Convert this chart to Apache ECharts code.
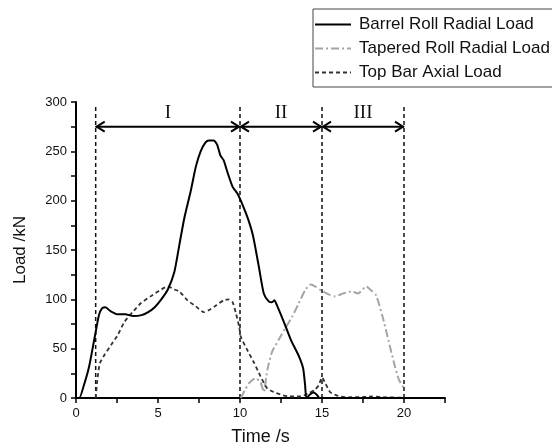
<!DOCTYPE html>
<html>
<head>
<meta charset="utf-8">
<script src="https://cdn.jsdelivr.net/npm/echarts@6/dist/echarts.min.js"></script>
<style>
  html, body { margin: 0; padding: 0; background: #fff; }
  #chart { width: 552px; height: 448px; }
</style>
</head>
<body>
<div id="chart"></div>
<script>
// [time s, load kN]
var barrelLoad = [
  [0, 0], [0.2, 0], [0.5, 14], [0.8, 32], [1.1, 58], [1.4, 84], [1.6, 91], [1.8, 92],
  [2.1, 88], [2.5, 85], [3.0, 85], [3.5, 83], [4.0, 84], [4.4, 87], [4.8, 92], [5.2, 100],
  [5.6, 110], [6.0, 128], [6.3, 155], [6.6, 182], [7.0, 210], [7.3, 234], [7.6, 250],
  [7.9, 259], [8.1, 261], [8.4, 261], [8.6, 257], [8.8, 246], [9.0, 241], [9.25, 228],
  [9.55, 214], [9.85, 207], [10.15, 196], [10.5, 181], [10.8, 164], [11.15, 133],
  [11.45, 106], [11.75, 98], [11.95, 97], [12.1, 99], [12.3, 92], [12.7, 76], [13.1, 59],
  [13.6, 42], [13.85, 30], [13.97, 13], [14.05, 0], [14.3, 4], [14.5, 5.5], [14.7, 3],
  [14.85, 0], [20, 0]
];
var taperedLoad = [
  [10.05, 0], [10.3, 8], [10.55, 15], [10.95, 20], [11.25, 16], [11.45, 6], [11.66, 28],
  [11.96, 47], [12.36, 59], [12.77, 71], [13.17, 82], [13.58, 96], [14.0, 110], [14.3, 115],
  [14.6, 113], [14.95, 109], [15.4, 105], [15.8, 103], [16.3, 106], [16.8, 108], [17.2, 106],
  [17.7, 113], [18.0, 109], [18.3, 104], [18.7, 82], [19.0, 62], [19.4, 35], [19.7, 18],
  [20.0, 10]
];
var topBarLoad = [
  [1.2, 0], [1.3, 18], [1.45, 35], [1.75, 44], [2.15, 54], [2.55, 64], [2.95, 77],
  [3.45, 87], [3.95, 96], [4.55, 103], [5.1, 109], [5.6, 113], [6.0, 110], [6.3, 108],
  [6.8, 99], [7.3, 93], [7.8, 87], [8.2, 90], [8.55, 94], [9.0, 99], [9.3, 100], [9.55, 97],
  [9.75, 86], [9.95, 72], [10.05, 62], [10.4, 50], [10.85, 36], [11.25, 22], [11.65, 10],
  [12.2, 5], [13.0, 1.5], [13.7, 1.5], [14.2, 5], [14.55, 8], [14.8, 13], [15.0, 21],
  [15.2, 15], [15.5, 6], [16.0, 2], [16.6, 0.7], [17.5, 1], [18.0, 1.5], [19.0, 0.7], [20, 0.3]
];

var seriesNames = ['Barrel Roll Radial Load', 'Tapered Roll Radial Load', 'Top Bar Axial Load'];

// stage boundaries and stage labels
var boundaryTimes = [1.2, 10, 15, 20];
var phaseNames = ['I', 'II', 'III'];
var boundaryTop = 296;
var arrowLoad = 275;
var phaseLabelLoad = 289;

var phases = [];
for (var i = 0; i < phaseNames.length; i++) {
  phases.push([boundaryTimes[i], boundaryTimes[i + 1]]);
}

var chart = echarts.init(document.getElementById('chart'));

var font = 'Liberation Sans, Arial, sans-serif';

var option = {
  animation: false,
  backgroundColor: '#fff',
  grid: { left: 76, top: 102, width: 369, height: 296, outerBoundsMode: 'none' },
  legend: {
    orient: 'vertical',
    left: 313,
    top: 9,
    data: seriesNames,
    itemWidth: 36,
    itemHeight: 14,
    itemGap: 7,
    padding: [7, 40, 6, 1],
    borderColor: '#444',
    borderWidth: 1,
    itemStyle: { opacity: 0 },
    textStyle: { fontSize: 17, fontFamily: font, color: '#111', padding: [0, 0, 0, 3] }
  },
  xAxis: {
    type: 'value',
    min: 0,
    max: 22.5,
    interval: 2.5,
    name: 'Time /s',
    nameLocation: 'middle',
    nameGap: 30,
    nameTextStyle: { fontSize: 18, fontFamily: font, color: '#111' },
    axisLine: { lineStyle: { color: '#000', width: 2 } },
    axisTick: { length: 5, lineStyle: { color: '#000', width: 1.5 } },
    axisLabel: {
      margin: 9, fontSize: 13, fontFamily: font, color: '#111',
      formatter: function (v) { return v % 5 === 0 ? String(v) : ''; }
    },
    splitLine: { show: false }
  },
  yAxis: {
    type: 'value',
    min: 0,
    max: 300,
    interval: 25,
    name: 'Load /kN',
    nameLocation: 'middle',
    nameGap: 47,
    nameTextStyle: { fontSize: 17, fontFamily: font, color: '#111' },
    axisLine: { show: true, lineStyle: { color: '#000', width: 2 } },
    axisTick: { show: true, length: 5, lineStyle: { color: '#000', width: 1.5 } },
    axisLabel: {
      margin: 9, fontSize: 13, fontFamily: font, color: '#111',
      formatter: function (v) { return v % 50 === 0 ? String(v) : ''; }
    },
    splitLine: { show: false }
  },
  series: [
    {
      name: seriesNames[0],
      type: 'line',
      data: barrelLoad,
      symbol: 'none',
      smooth: 0.2,
      z: 4,
      itemStyle: { color: '#000' },
      lineStyle: { color: '#000', width: 2 }
    },
    {
      name: seriesNames[1],
      type: 'line',
      data: taperedLoad,
      symbol: 'none',
      smooth: 0.2,
      z: 3,
      itemStyle: { color: '#a5a5a5' },
      lineStyle: { color: '#a5a5a5', width: 2, type: [8, 3, 2, 3] }
    },
    {
      name: seriesNames[2],
      type: 'line',
      data: topBarLoad,
      symbol: 'none',
      smooth: 0.2,
      z: 3,
      itemStyle: { color: '#333' },
      lineStyle: { color: '#333', width: 1.8, type: [4, 3] }
    },
    {
      // vertical stage boundaries
      type: 'custom',
      data: boundaryTimes.map(function (t) { return [t, 0]; }),
      clip: false,
      silent: true,
      z: 2,
      renderItem: function (params, api) {
        var p0 = api.coord([api.value(0), 0]);
        var p1 = api.coord([api.value(0), boundaryTop]);
        return {
          type: 'line',
          shape: { x1: p0[0], y1: p0[1], x2: p1[0], y2: p1[1] },
          style: { stroke: '#111', lineWidth: 1.5, lineDash: [4, 3] }
        };
      }
    },
    {
      // double arrows and stage names
      type: 'custom',
      data: phases,
      clip: false,
      silent: true,
      z: 5,
      renderItem: function (params, api) {
        var a = api.coord([api.value(0), arrowLoad]);
        var b = api.coord([api.value(1), arrowLoad]);
        var c = api.coord([(api.value(0) + api.value(1)) / 2, phaseLabelLoad]);
        var st = { stroke: '#000', lineWidth: 2, fill: null };
        return {
          type: 'group',
          children: [
            { type: 'line', shape: { x1: a[0], y1: a[1], x2: b[0], y2: b[1] }, style: st },
            { type: 'polyline', shape: { points: [[a[0] + 9, a[1] - 5], [a[0] + 1, a[1]], [a[0] + 9, a[1] + 5]] }, style: st },
            { type: 'polyline', shape: { points: [[b[0] - 9, b[1] - 5], [b[0] - 1, b[1]], [b[0] - 9, b[1] + 5]] }, style: st },
            {
              type: 'text',
              x: c[0], y: c[1],
              style: {
                text: phaseNames[params.dataIndex],
                fontSize: 19,
                fontFamily: 'Liberation Serif, Times New Roman, serif',
                fill: '#111',
                align: 'center',
                verticalAlign: 'middle'
              }
            }
          ]
        };
      }
    }
  ]
};

chart.setOption(option);
</script>
</body>
</html>
